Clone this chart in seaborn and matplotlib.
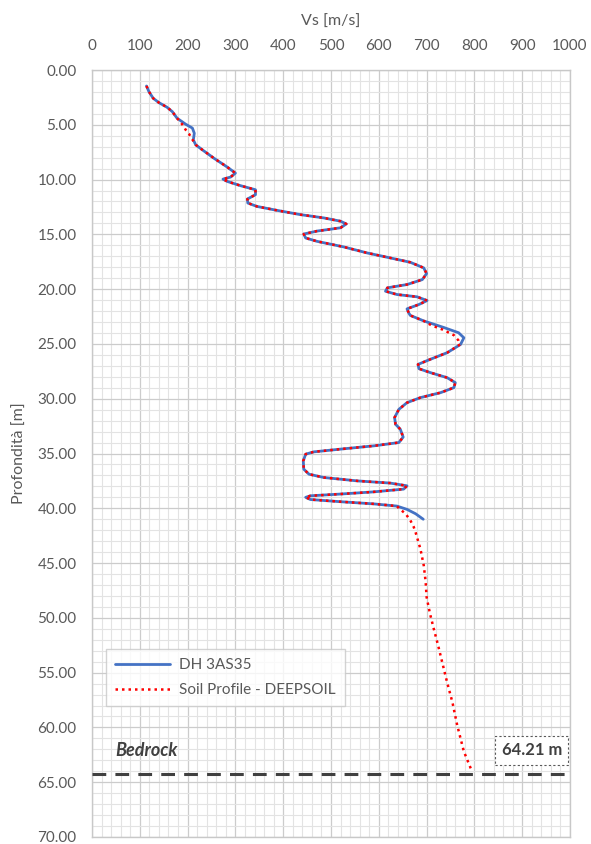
import numpy as np
import pandas as pd
import seaborn as sns
import matplotlib.pyplot as plt
from matplotlib.ticker import MultipleLocator, FormatStrFormatter

# depth [m] / Vs [m/s], split where the two curves differ
top_depth = [1.46, 1.97, 2.58, 2.98, 3.4, 3.8, 4.4]
top_vs = [114, 119, 128, 140, 157, 168, 178]

dh_b_depth = [4.95, 5.3, 5.77, 6.38]
dh_b_vs = [196, 210, 214, 212]
ds_b_depth = [4.8, 5.16, 5.46, 5.83, 6.13]
ds_b_vs = [186, 192, 196, 203, 207]

mid_depth = [6.83, 7.29, 8.05, 8.86, 9.41, 9.77, 9.96, 10.17, 10.56, 10.93,
             11.38, 11.78, 12.14, 12.45, 12.81, 13.2, 13.5, 13.8, 14.05, 14.4,
             14.7, 14.97, 15.33, 15.64, 16.15, 16.7, 17.15, 17.55, 18.06,
             18.58, 19.13, 19.58, 19.88, 20.19, 20.49, 20.7, 21.04, 21.4,
             21.8, 22.2]
mid_vs = [217, 231, 255, 283, 300, 290, 274, 283, 311, 342,
          342, 325, 326, 345, 387, 436, 485, 520, 532, 520,
          471, 443, 447, 471, 527, 576, 624, 666, 694,
          700, 691, 659, 618, 614, 638, 680, 701, 684,
          659, 663]

dh_d_depth = [22.4, 22.9, 23.5, 23.98, 24.44, 25.05]
dh_d_vs = [666, 694, 736, 767, 778, 771]
ds_d_depth = [22.4, 22.9, 23.3, 23.7, 24.2, 24.7, 25.05]
ds_d_vs = [666, 694, 710, 734, 757, 767, 770]

low_depth = [25.8, 26.4, 26.87, 27.26, 27.62, 28.08, 28.53, 28.99, 29.45,
             29.9, 30.36, 30.97, 31.72, 32.33, 32.79, 33.5, 34.0, 34.3, 34.6,
             34.85, 35.06, 35.67, 36.43, 36.89, 37.19, 37.5, 37.7, 37.95,
             38.25, 38.5, 38.7, 38.86, 39.0, 39.2, 39.4, 39.6, 39.8]
low_vs = [743, 708, 682, 684, 708, 743, 760, 757, 729,
          687, 659, 642, 633, 635, 645, 651, 642, 590, 520,
          464, 447, 442, 443, 454, 485, 555, 624, 659,
          652, 590, 520, 457, 447, 457, 520, 590, 638]

dh_f_depth = [40.1, 40.5, 41.0]
dh_f_vs = [659, 677, 693]
ds_f_depth = [40.0, 40.5, 41.1, 41.7, 42.2, 43.7, 45.2, 46.7, 48.1, 49.6,
              51.0, 52.5, 53.4, 55.9, 57.7, 59.8, 62.2, 63.7, 64.0]
ds_f_vs = [642, 656, 666, 673, 677, 687, 694, 698, 700, 707,
           715, 724, 729, 743, 754, 764, 778, 792, 795]

bedrock = 64.21

dh = pd.DataFrame({
    'depth': top_depth + dh_b_depth + mid_depth + dh_d_depth + low_depth + dh_f_depth,
    'Vs': top_vs + dh_b_vs + mid_vs + dh_d_vs + low_vs + dh_f_vs})
ds = pd.DataFrame({
    'depth': top_depth + ds_b_depth + mid_depth + ds_d_depth + low_depth + ds_f_depth,
    'Vs': top_vs + ds_b_vs + mid_vs + ds_d_vs + low_vs + ds_f_vs})

sns.set_style("white")
plt.rcParams['font.family'] = ['Lato', 'DejaVu Sans']
txt = '#595959'

fig = plt.figure(figsize=(5.91, 8.44), dpi=100)
ax = fig.add_axes([92 / 591, 7 / 844, 478 / 591, 767 / 844])

sns.lineplot(data=dh, x='Vs', y='depth', sort=False, estimator=None,
             color='#4472C4', lw=2.0, ax=ax, label='DH 3AS35')
sns.lineplot(data=ds, x='Vs', y='depth', sort=False, estimator=None,
             color='#FF0000', lw=1.8, ls=(0, (1, 1.6)), ax=ax,
             label='Soil Profile - DEEPSOIL')

ax.axhline(bedrock, color='#404040', lw=2.2, ls=(0, (4.5, 3)), zorder=3)
ax.text(48, 62.1, 'Bedrock', fontsize=13, fontweight='bold', style='italic',
        color='#404040', va='center', ha='left')
ax.text(920, 62.1, '64.21 m', fontsize=12, fontweight='bold', color='#404040',
        va='center', ha='center',
        bbox=dict(boxstyle='square,pad=0.38', fc='white', ec='#595959',
                  ls=(0, (2, 2)), lw=0.8))

ax.set_xlim(0, 1000)
ax.set_ylim(70, 0)
ax.xaxis.set_major_locator(MultipleLocator(100))
ax.xaxis.set_minor_locator(MultipleLocator(20))
ax.yaxis.set_major_locator(MultipleLocator(5))
ax.yaxis.set_minor_locator(MultipleLocator(1))
ax.yaxis.set_major_formatter(FormatStrFormatter('%.2f'))
ax.xaxis.tick_top()
ax.xaxis.set_label_position('top')
ax.tick_params(which='both', length=0, labelsize=11, labelcolor=txt)
ax.tick_params(axis='y', pad=11)
ax.tick_params(axis='x', pad=12)

ax.grid(which='major', color='#cccccc', lw=0.9)
ax.grid(which='minor', color='#e3e3e3', lw=0.8)
ax.set_axisbelow(True)
for s in ax.spines.values():
    s.set_color('#c8c8c8')
    s.set_linewidth(1)

ax.set_xlabel('Vs [m/s]', fontsize=11.5, color=txt, labelpad=10)
ax.set_ylabel('Profondità [m]', fontsize=11.5, color=txt, labelpad=8)

leg = ax.legend(loc='upper left', bbox_to_anchor=(0.0287, 0.2448),
                borderaxespad=0, fontsize=11, frameon=True, fancybox=False,
                handlelength=3.6, labelspacing=0.7, borderpad=0.6,
                handletextpad=0.6)
leg.get_frame().set_edgecolor('#c8c8c8')
leg.get_frame().set_linewidth(1)
for t in leg.get_texts():
    t.set_color(txt)

fig.savefig('out.png', dpi=100)
